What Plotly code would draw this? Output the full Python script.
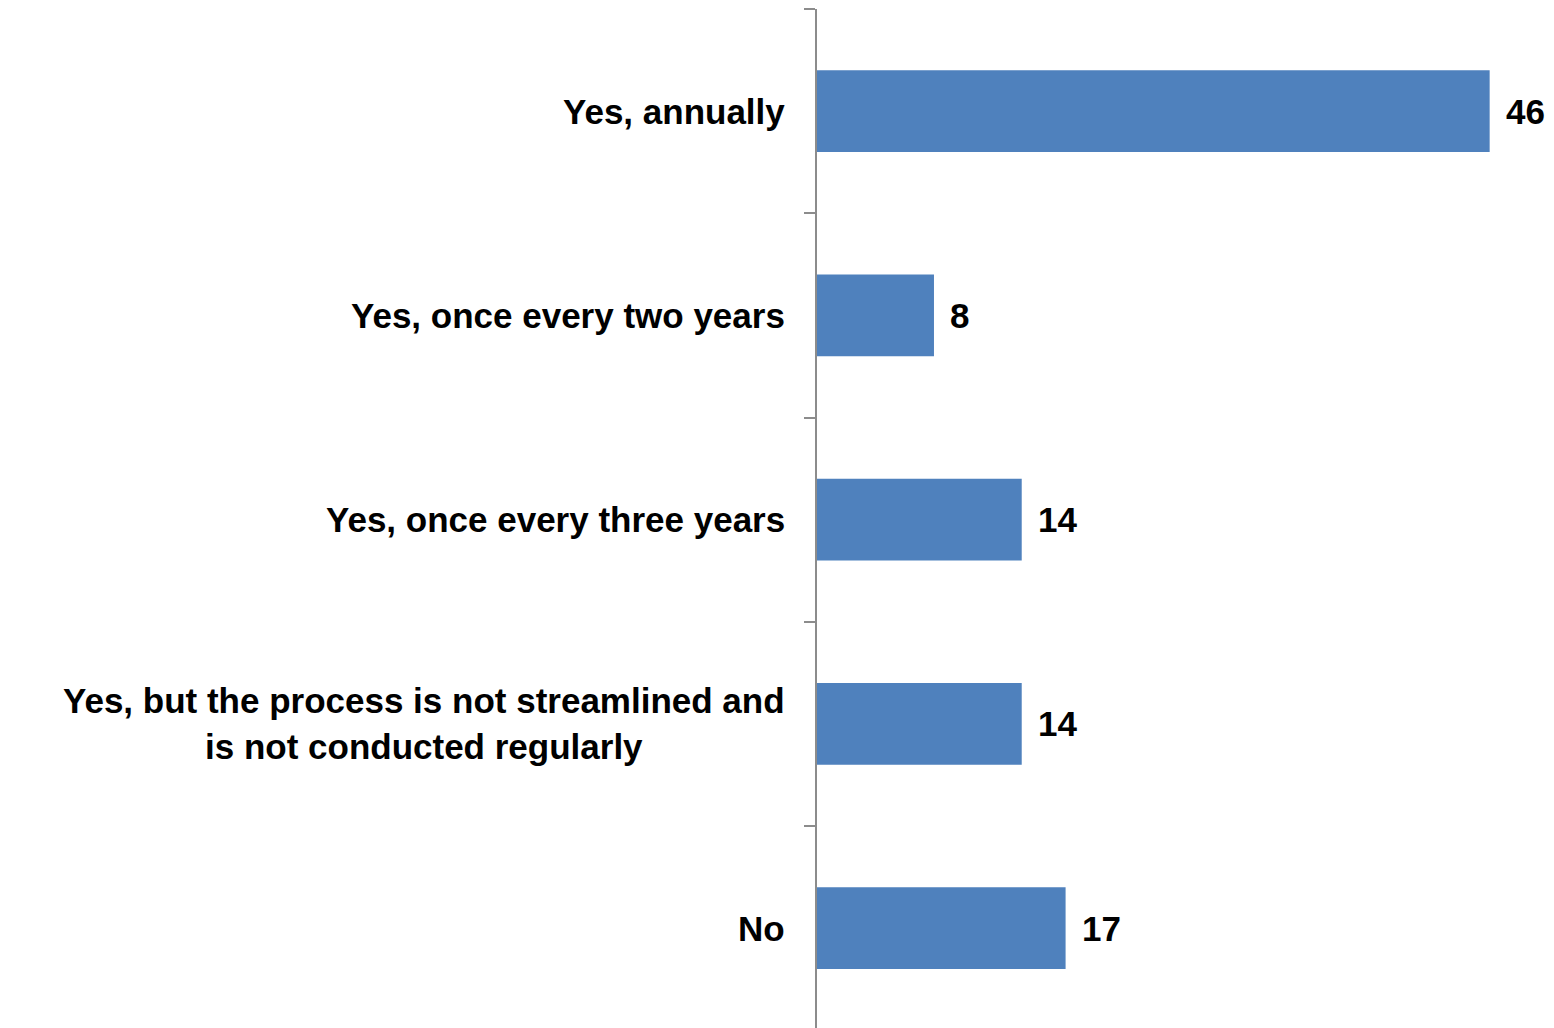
import plotly.graph_objects as go

categories = [
    "Yes, annually",
    "Yes, once every two years",
    "Yes, once every three years",
    "Yes, but the process is not streamlined and<br>is not conducted regularly",
    "No",
]
values = [46, 8, 14, 14, 17]

FONT = "Liberation Sans, Arial, sans-serif"
BAR_COLOR = "#4F81BD"
AXIS_COLOR = "#8C8C8C"
FONT_SIZE = 35

fig = go.Figure(
    go.Bar(
        x=values,
        y=categories,
        orientation="h",
        marker=dict(color=BAR_COLOR, line=dict(width=0)),
        width=0.4,
        hoverinfo="skip",
    )
)

annotations = []
# category labels to the left of the axis
for cat in categories:
    annotations.append(
        dict(
            x=0, y=cat, xref="paper", yref="y",
            text=cat, showarrow=False,
            xanchor="right", yanchor="middle", align="center",
            xshift=-30,
            font=dict(family=FONT, size=FONT_SIZE, color="black", weight="bold"),
        )
    )
# value labels at the bar ends
for cat, v in zip(categories, values):
    annotations.append(
        dict(
            x=v, y=cat, xref="x", yref="y",
            text=str(v), showarrow=False,
            xanchor="left", yanchor="middle",
            xshift=14,
            font=dict(family=FONT, size=FONT_SIZE, color="black", weight="bold"),
        )
    )

fig.update_layout(
    width=1554,
    height=1028,
    margin=dict(l=817, r=0, t=9, b=0),
    paper_bgcolor="white",
    plot_bgcolor="white",
    showlegend=False,
    annotations=annotations,
    xaxis=dict(
        range=[0, 50.4],
        showgrid=False,
        zeroline=False,
        showticklabels=False,
        showline=False,
        ticks="",
        fixedrange=True,
    ),
    yaxis=dict(
        categoryorder="array",
        categoryarray=categories,
        range=[4.489, -0.5],
        showgrid=False,
        zeroline=False,
        showticklabels=False,
        showline=True,
        linecolor=AXIS_COLOR,
        linewidth=2,
        ticks="outside",
        tickson="boundaries",
        ticklen=11,
        tickwidth=2,
        tickcolor=AXIS_COLOR,
        fixedrange=True,
    ),
)

fig.write_html("out.html")
